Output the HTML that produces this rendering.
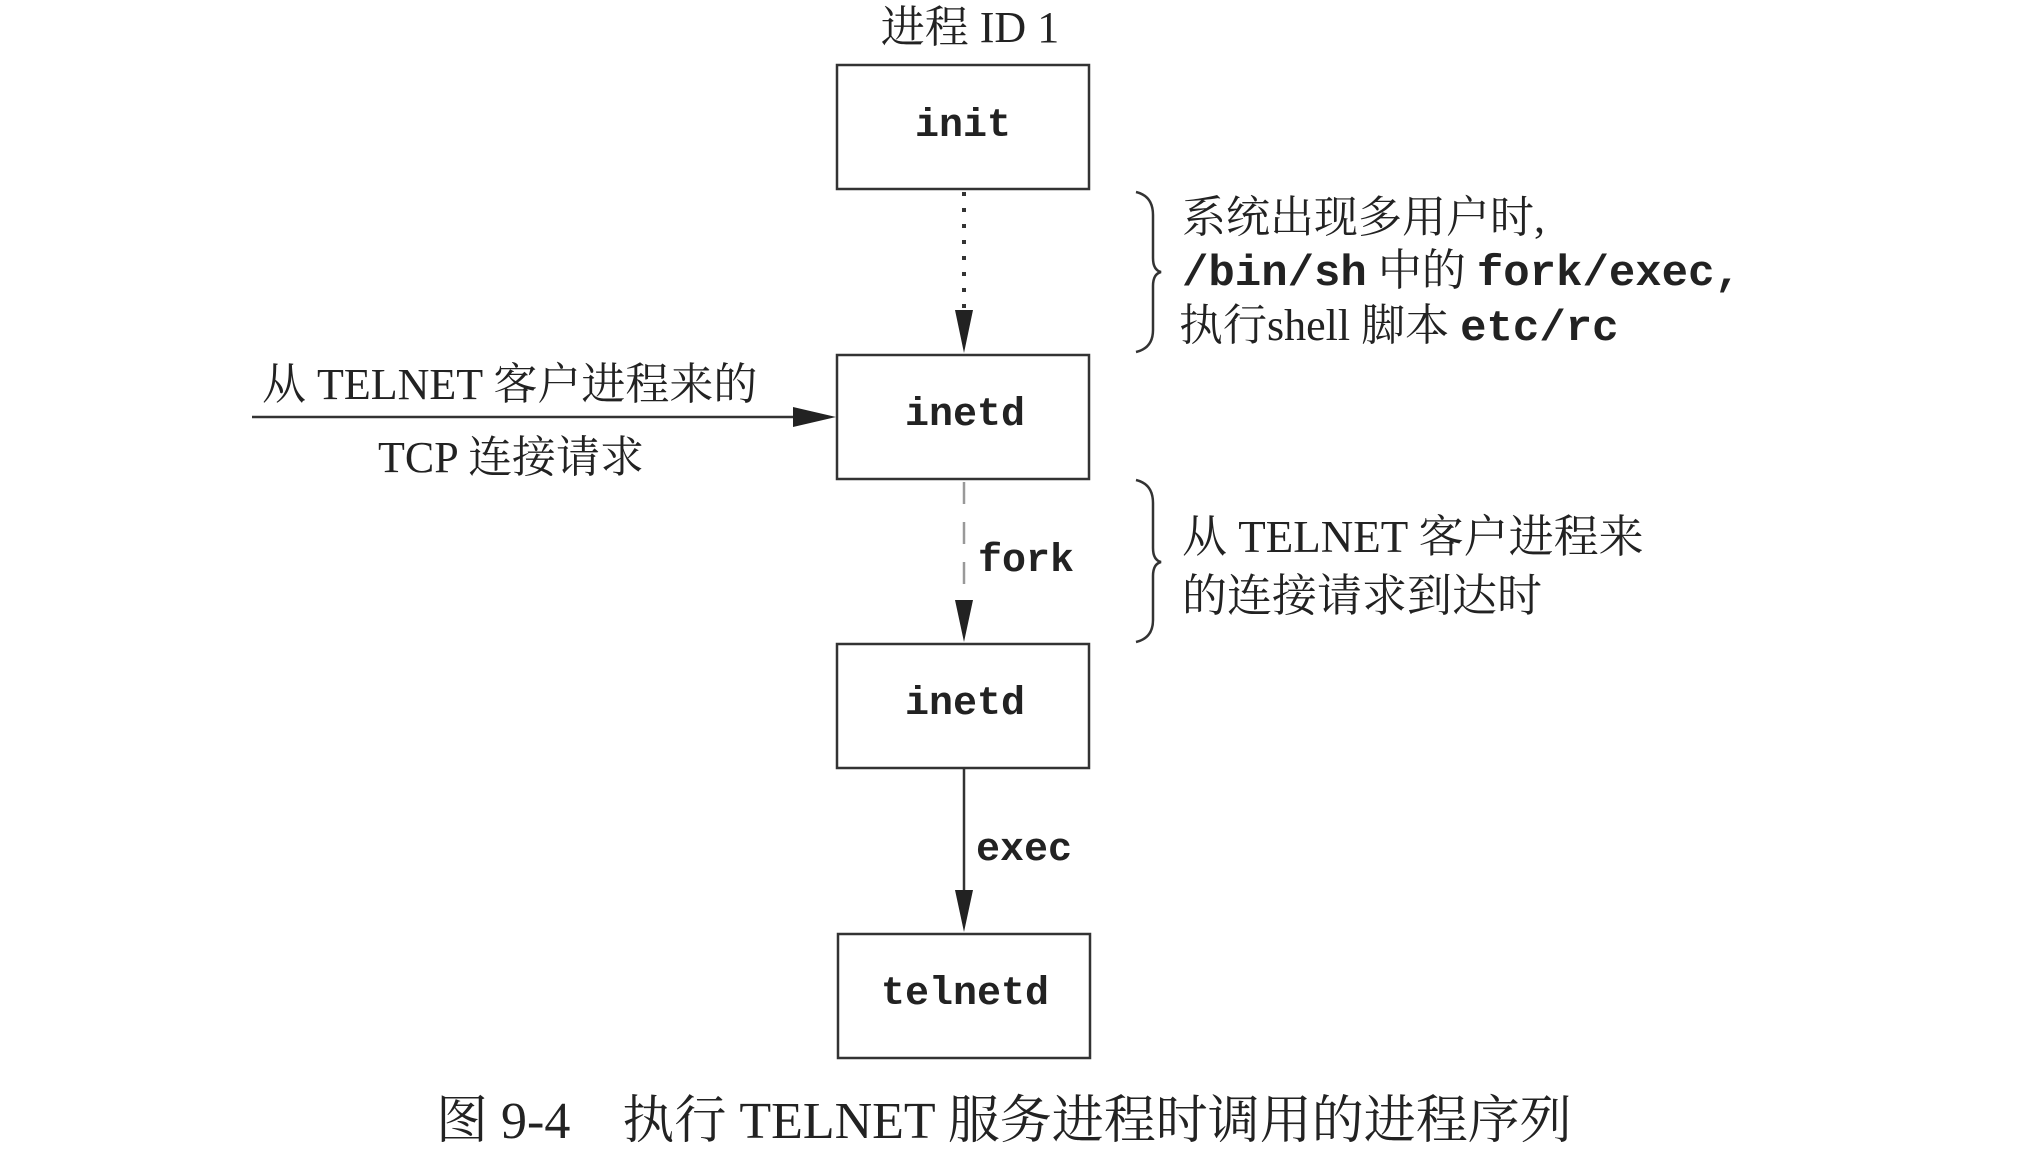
<!DOCTYPE html>
<html><head><meta charset="utf-8"><style>
html,body{margin:0;padding:0;background:#fff;}
svg{display:block;}
.m{font-family:"Liberation Mono",monospace;font-weight:bold;fill:#222;}
.c{font-family:"Liberation Serif","Noto Serif CJK SC",serif;fill:#222;}
</style></head><body>
<svg width="2024" height="1162" viewBox="0 0 2024 1162" xmlns="http://www.w3.org/2000/svg">
<g fill="none" stroke="#333" stroke-width="2.5">
<rect x="837" y="65" width="252" height="124"/>
<rect x="837" y="355" width="252" height="124"/>
<rect x="837" y="644" width="252" height="124"/>
<rect x="838" y="934" width="252" height="124"/>
</g>
<text class="c" x="970" y="42" font-size="44" text-anchor="middle">进程 ID 1</text>
<text class="m" x="963" y="136" font-size="40" text-anchor="middle">init</text>
<text class="m" x="965" y="425" font-size="40" text-anchor="middle">inetd</text>
<text class="m" x="965" y="714" font-size="40" text-anchor="middle">inetd</text>
<text class="m" x="965" y="1004" font-size="40" text-anchor="middle">telnetd</text>
<line x1="964" y1="192" x2="964" y2="312" stroke="#333" stroke-width="4" stroke-dasharray="4 12"/>
<polygon points="955,310 973,310 964,353" fill="#222"/>
<line x1="964" y1="482" x2="964" y2="600" stroke="#999" stroke-width="2.5" stroke-dasharray="22 18"/>
<polygon points="955,600 973,600 964,642" fill="#222"/>
<text class="m" x="978" y="571" font-size="40">fork</text>
<line x1="964" y1="768" x2="964" y2="892" stroke="#333" stroke-width="2.5"/>
<polygon points="955,890 973,890 964,932" fill="#222"/>
<text class="m" x="976" y="860" font-size="40">exec</text>
<line x1="252" y1="417" x2="795" y2="417" stroke="#333" stroke-width="2.5"/>
<polygon points="793,407 793,427 836,417" fill="#222"/>
<text class="c" x="262" y="399" font-size="44">从 TELNET 客户进程来的</text>
<text class="c" x="378" y="472" font-size="44">TCP 连接请求</text>
<path d="M1136,192 Q1153,196 1153,215 L1153,258 Q1153,270 1161,272 Q1153,274 1153,286 L1153,330 Q1153,348 1136,352" fill="none" stroke="#333" stroke-width="2.5"/>
<path d="M1136,480 Q1153,484 1153,503 L1153,548 Q1153,560 1161,562 Q1153,564 1153,576 L1153,620 Q1153,638 1136,642" fill="none" stroke="#333" stroke-width="2.5"/>
<text class="c" x="1182" y="232" font-size="44">系统出现多用户时,</text>
<text x="1182" y="285" font-size="44"><tspan class="m" font-weight="normal">/bin/sh</tspan><tspan class="c"> 中的 </tspan><tspan class="m" font-weight="normal">fork/exec,</tspan></text>
<text x="1179" y="340" font-size="44"><tspan class="c">执行shell 脚本 </tspan><tspan class="m" font-weight="normal">etc/rc</tspan></text>
<text class="c" x="1182" y="552" font-size="45">从 TELNET 客户进程来</text>
<text class="c" x="1182" y="611" font-size="45">的连接请求到达时</text>
<text class="c" x="436" y="1138" font-size="52">图 9-4　执行 TELNET 服务进程时调用的进程序列</text>
</svg>
</body></html>
